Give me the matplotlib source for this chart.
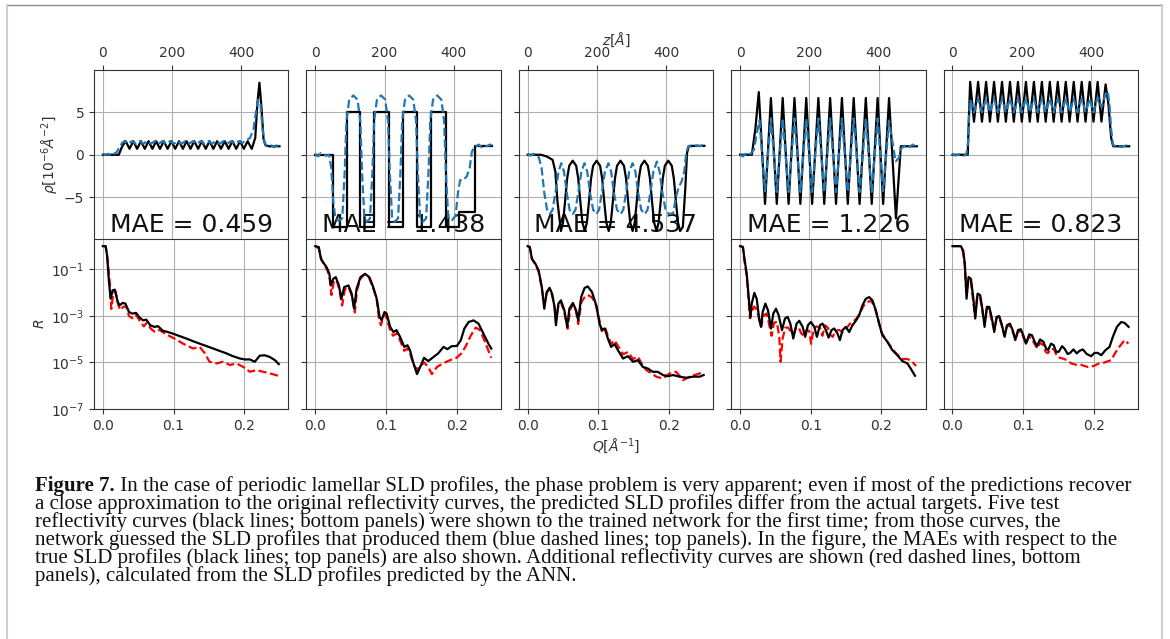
import matplotlib
matplotlib.use("Agg")
import matplotlib.pyplot as plt
import numpy as np
from matplotlib.lines import Line2D
from matplotlib.ticker import NullLocator

# ---------------- top row: SLD profiles, z [A] vs rho [1e-6 A^-2] ----------------
z1_true = [0, 46, 56,
           66, 77, 88, 99, 110, 121, 132, 143, 154, 165,
           176, 187, 198, 209, 220, 231, 242, 253, 264, 275,
           286, 297, 308, 319, 330, 341, 352, 363, 374, 385,
           396, 407, 418,
           430, 440, 446, 452, 458, 464, 470, 480, 510]
rho1_true = [0, 0, 1.0,
             1.6, 0.7, 1.6, 0.7, 1.6, 0.7, 1.6, 0.7, 1.6, 0.7,
             1.6, 0.7, 1.6, 0.7, 1.6, 0.7, 1.6, 0.7, 1.6, 0.7,
             1.6, 0.7, 1.6, 0.7, 1.6, 0.7, 1.6, 0.7, 1.6, 0.7,
             1.6, 0.7, 1.6,
             0.7, 2.0, 6.0, 8.5, 5.5, 1.8, 1.1, 1.0, 1.0]
z1_pred = [0, 8, 16, 24, 32, 40, 48, 56,
           62, 73, 84, 95, 106, 117, 128, 139, 150, 161,
           172, 183, 194, 205, 216, 227, 238, 249, 260, 271,
           282, 293, 304, 315, 326, 337, 348, 359, 370, 381,
           392, 403, 414, 425,
           435, 442, 448, 455, 461, 467, 473, 480, 487, 494, 501, 508]
rho1_pred = [0.1, 0.0, 0.1, -0.1, 0.1, 0.3, 0.9, 1.4,
             1.6, 1.3, 1.6, 1.3, 1.6, 1.3, 1.6, 1.3, 1.6, 1.3,
             1.6, 1.3, 1.6, 1.3, 1.6, 1.3, 1.6, 1.3, 1.6, 1.3,
             1.6, 1.3, 1.6, 1.3, 1.6, 1.3, 1.6, 1.3, 1.6, 1.3,
             1.6, 1.4, 1.7, 2.0,
             3.0, 5.0, 6.5, 6.0, 3.0, 1.4, 1.1, 1.0, 1.1, 0.9, 1.1, 1.0]

z2_true = [0, 50, 50, 91, 91, 129, 129, 171, 171, 212, 212, 253,
           253, 294, 294, 335, 335, 376, 376, 415, 415, 460, 460, 510]
rho2_true = [0, 0, -8.5, -8.5, 5.1, 5.1, -8.5, -8.5, 5.1, 5.1, -8.5, -8.5,
             5.1, 5.1, -8.5, -8.5, 5.1, 5.1, -8.5, -8.5, -6.8, -6.8, 1.0, 1.0]
z2_pred = [0, 8, 16, 24, 32, 40, 46, 52, 58, 68, 78,
           85, 90, 98, 110, 122, 130, 135, 142, 150, 158,
           165, 170, 178, 190, 202, 210, 215, 222, 230, 239,
           246, 251, 259, 271, 283, 291, 296, 303, 311, 320,
           327, 332, 340, 352, 364, 372, 377, 384, 395, 405,
           412, 418, 428, 438, 446, 452, 458, 464, 472, 480, 488, 496, 504, 510]
rho2_pred = [0.1, -0.2, 0.2, 0.0, -0.1, 0.0, -1.5, -5.5, -7.5, -7.8, -7.5,
             -2, 4, 6.5, 7.0, 6.5, 4, -2, -7.5, -7.9, -7.5,
             -2, 4, 6.5, 7.0, 6.5, 4, -2, -7.5, -7.9, -7.5,
             -2, 4, 6.5, 7.0, 6.5, 4, -2, -7.5, -7.9, -7.5,
             -2, 4, 6.5, 7.0, 6.5, 4, -2, -7.5, -7.7, -7.2,
             -4.5, -3.0, -3.0, -2.5, -1.5, 0.3, 0.9, 1.0, 1.2, 0.9, 1.1, 1.0, 1.2, 1.1]

z3_true = [0, 38, 55, 72, 80, 86, 96,
           102, 108, 114, 120, 130, 140, 146, 152, 158, 165,
           171, 177, 183, 189, 199, 209, 215, 221, 227, 234,
           240, 246, 252, 258, 268, 278, 284, 290, 296, 303,
           309, 315, 321, 327, 337, 347, 353, 359, 365, 372,
           378, 384, 390, 396, 406, 416, 422, 428, 434, 440,
           448, 455, 460, 465, 480, 510]
rho3_true = [0, 0, -0.2, -0.6, -2.0, -5.5, -9.0,
             -8.0, -5.5, -2.8, -1.3, -0.7, -1.3, -2.8, -5.5, -8.0, -9.0,
             -8.0, -5.5, -2.8, -1.3, -0.7, -1.3, -2.8, -5.5, -8.0, -9.0,
             -8.0, -5.5, -2.8, -1.3, -0.7, -1.3, -2.8, -5.5, -8.0, -9.0,
             -8.0, -5.5, -2.8, -1.3, -0.7, -1.3, -2.8, -5.5, -8.0, -9.0,
             -8.0, -5.5, -2.8, -1.3, -0.7, -1.3, -2.8, -5.5, -8.0, -9.0,
             -8.5, -4.0, 0.2, 1.0, 1.05, 1.05]
z3_pred = [0, 8, 16, 24, 32, 40, 48, 56, 64,
           72, 80, 89, 97, 105, 113, 121, 130,
           138, 146, 155, 164, 172, 180, 189, 198,
           206, 214, 223, 233, 241, 249, 258, 268,
           276, 284, 293, 303, 311, 319, 328, 338,
           346, 354, 363, 373, 381, 389, 398, 408,
           420, 428, 436, 444, 452, 458, 464, 472, 480, 488, 496, 504, 510]
rho3_pred = [0.1, -0.1, 0.1, 0.0, -0.3, -1.5, -4.5, -6.5, -7.0,
             -6.5, -4.5, -2.0, -1.0, -2.0, -4.5, -6.5, -7.0,
             -6.5, -4.5, -2.0, -1.0, -2.0, -4.5, -6.5, -7.0,
             -6.5, -4.5, -2.0, -1.0, -2.0, -4.5, -6.5, -7.0,
             -6.5, -4.5, -2.0, -1.0, -2.0, -4.5, -6.5, -7.0,
             -6.5, -4.5, -2.0, -0.8, -2.0, -4.5, -6.5, -7.0,
             -6.9, -5.0, -3.8, -3.2, -2.0, 0.3, 1.0, 1.1, 1.0, 1.1, 1.0, 1.1, 1.05]

z4_true = [0, 34, 44, 54,
           72, 89, 106, 123, 140, 157, 174, 191, 208, 226,
           243, 260, 277, 294, 311, 328, 345, 363, 380, 397,
           413, 430,
           450, 464, 480, 510]
rho4_true = [0, 0, 3.0, 7.4,
             -5.8, 6.7, -5.8, 6.7, -5.8, 6.7, -5.8, 6.7, -5.8, 6.7,
             -5.8, 6.7, -5.8, 6.7, -5.8, 6.7, -5.8, 6.7, -5.8, 6.7,
             -5.8, 6.7,
             -7.5, 1.0, 1.0, 1.0]
z4_pred = [0, 8, 16, 24, 32, 40, 48, 56,
           72, 89, 106, 123, 140, 157, 174, 191, 208, 226,
           243, 260, 277, 294, 311, 328, 345, 363, 380, 397,
           413, 430,
           449, 458, 466, 474, 482, 490, 498, 506]
rho4_pred = [0.0, -0.2, 0.1, -0.1, 0.2, 0.6, 2.5, 4.0,
             -4.3, 4.3, -4.4, 4.3, -4.4, 4.3, -4.4, 4.3, -4.4, 4.3,
             -4.4, 4.3, -4.4, 4.3, -4.4, 4.3, -4.4, 4.3, -4.4, 4.3,
             -4.3, 4.0,
             -0.8, -0.4, 0.8, 1.0, 1.2, 0.9, 1.2, 1.0]

z5_true = [0, 44, 47,
           51, 62, 74, 85, 97, 108, 120, 131, 143, 154,
           166, 177, 189, 200, 212, 223, 235, 246, 258, 269,
           281, 292, 304, 315, 327, 338, 350, 361, 373, 384,
           396, 407, 419, 430, 442,
           450, 458, 464, 480, 510]
rho5_true = [0, 0, 4.0,
             8.6, 3.9, 8.6, 3.9, 8.6, 3.9, 8.6, 3.9, 8.6, 3.9,
             8.6, 3.9, 8.6, 3.9, 8.6, 3.9, 8.6, 3.9, 8.6, 3.9,
             8.6, 3.9, 8.6, 3.9, 8.6, 3.9, 8.6, 3.9, 8.6, 3.9,
             8.6, 3.9, 8.6, 3.9, 8.3,
             6.0, 2.0, 1.0, 1.0, 1.0]
z5_pred = [0, 8, 16, 24, 32, 40, 45, 48,
           51, 62, 74, 85, 97, 108, 120, 131, 143, 154,
           166, 177, 189, 200, 212, 223, 235, 246, 258, 269,
           281, 292, 304, 315, 327, 338, 350, 361, 373, 384,
           396, 407, 419, 430, 442,
           448, 453, 458, 463, 470, 478, 486, 494, 502, 509]
rho5_pred = [0.1, -0.1, 0.0, 0.1, -0.1, 0.0, 1.5, 4.5,
             6.5, 5.0, 6.6, 5.0, 6.6, 5.0, 6.6, 5.0, 6.6, 5.0,
             6.6, 5.0, 6.6, 5.0, 6.6, 5.0, 6.6, 5.0, 6.6, 5.0,
             6.6, 5.0, 6.6, 5.0, 6.6, 5.0, 6.6, 5.0, 6.6, 5.0,
             6.6, 5.0, 6.8, 5.6, 7.2,
             7.5, 6.0, 3.0, 1.2, 1.0, 1.1, 0.9, 1.0, 1.1, 0.9]

mae = [0.459, 1.438, 4.537, 1.226, 0.823]

# ---------------- bottom row: reflectivity, Q [1/A] vs log10(R) ----------------
Q1 = [0.0, 0.004, 0.006, 0.0085, 0.011, 0.014, 0.017, 0.021, 0.024, 0.028,
      0.032, 0.037, 0.0415, 0.047, 0.052, 0.057, 0.0615, 0.067, 0.073, 0.078,
      0.085, 0.092, 0.099, 0.109, 0.118, 0.128, 0.137, 0.147, 0.156, 0.165,
      0.175, 0.184, 0.194, 0.201, 0.208, 0.215, 0.222, 0.229, 0.236, 0.2435, 0.249]
logR1 = [0.0, 0.0, -0.4, -1.47, -2.26, -1.9, -1.87, -2.4, -2.54, -2.44,
         -2.47, -2.83, -2.9, -2.87, -3.07, -3.19, -3.16, -3.4, -3.47, -3.44,
         -3.64, -3.69, -3.76, -3.87, -3.97, -4.09, -4.19, -4.3, -4.4, -4.5,
         -4.61, -4.73, -4.83, -4.87, -4.87, -4.97, -4.71, -4.69, -4.76, -4.9, -5.07]
Qr1 = [0.0, 0.004, 0.0065, 0.010, 0.012, 0.015, 0.018, 0.022, 0.025, 0.029,
       0.033, 0.037, 0.042, 0.047, 0.052, 0.058, 0.062, 0.068, 0.074, 0.080,
       0.090, 0.100, 0.1135, 0.1277, 0.137, 0.144, 0.151, 0.161, 0.170, 0.180,
       0.189, 0.1986, 0.208, 0.2175, 0.227, 0.2364, 0.248]
logRr1 = [0.0, 0.0, -0.5, -1.6, -2.7, -2.0, -1.95, -2.55, -2.75, -2.6,
          -2.6, -3.0, -3.1, -2.95, -3.2, -3.45, -3.3, -3.55, -3.7, -3.6,
          -3.8, -3.95, -4.19, -4.4, -4.33, -4.59, -4.97, -5.04, -4.97, -5.11,
          -5.04, -5.19, -5.4, -5.33, -5.4, -5.47, -5.57]

Q2 = [0.0, 0.005, 0.008, 0.011, 0.016, 0.020, 0.022, 0.0255, 0.029, 0.0335,
      0.037, 0.041, 0.047, 0.0515, 0.055, 0.0585, 0.064, 0.0705, 0.0765, 0.082,
      0.087, 0.091, 0.094, 0.098, 0.101, 0.106, 0.1105, 0.115, 0.120, 0.126,
      0.1305, 0.134, 0.139, 0.144, 0.1485, 0.154, 0.160, 0.1675, 0.174, 0.1815,
      0.187, 0.193, 0.2005, 0.206, 0.211, 0.217, 0.224, 0.231, 0.238, 0.245, 0.249]
logR2 = [0.0, -0.04, -0.54, -0.69, -0.9, -1.19, -1.69, -1.4, -1.33, -1.69,
         -2.26, -1.76, -1.69, -2.04, -2.69, -1.83, -1.33, -1.19, -1.33, -1.76,
         -2.26, -3.04, -3.19, -2.83, -2.9, -3.47, -3.69, -3.61, -3.9, -4.33,
         -4.26, -4.47, -5.04, -5.5, -5.19, -4.8, -4.94, -4.76, -4.61, -4.33,
         -4.43, -4.3, -4.29, -4.04, -3.54, -3.26, -3.19, -3.33, -3.76, -4.19, -4.4]
Qr2 = [0.0, 0.005, 0.009, 0.013, 0.018, 0.021, 0.023, 0.026, 0.030, 0.034,
       0.038, 0.042, 0.047, 0.052, 0.056, 0.059, 0.064, 0.070, 0.076, 0.082,
       0.087, 0.0905, 0.093, 0.097, 0.100, 0.106, 0.110, 0.115, 0.120, 0.126,
       0.130, 0.134, 0.139, 0.144, 0.149, 0.154, 0.160, 0.165, 0.172, 0.180,
       0.187, 0.195, 0.200, 0.207, 0.213, 0.220, 0.227, 0.233, 0.240, 0.249]
logRr2 = [0.0, -0.1, -0.6, -0.8, -1.1, -1.5, -2.1, -1.55, -1.45, -1.85,
          -2.55, -1.85, -1.75, -2.15, -2.85, -1.9, -1.4, -1.2, -1.35, -1.8,
          -2.3, -3.2, -3.4, -2.95, -3.0, -3.6, -3.85, -3.75, -4.05, -4.5,
          -4.4, -4.6, -5.1, -5.3, -5.15, -5.0, -5.2, -5.5, -5.2, -5.05,
          -4.95, -4.85, -4.8, -4.6, -4.3, -3.85, -3.5, -3.6, -4.1, -4.8]

Q3 = [0.0, 0.003, 0.006, 0.011, 0.0155, 0.020, 0.0235, 0.027, 0.031, 0.0345,
      0.038, 0.040, 0.0435, 0.047, 0.052, 0.056, 0.059, 0.064, 0.0685, 0.0715,
      0.0757, 0.0805, 0.085, 0.091, 0.097, 0.1017, 0.105, 0.109, 0.1135, 0.118,
      0.123, 0.1277, 0.135, 0.142, 0.149, 0.156, 0.163, 0.170, 0.177, 0.184,
      0.1915, 0.1986, 0.2057, 0.215, 0.2246, 0.234, 0.2435, 0.249]
logR3 = [0.0, -0.04, -0.54, -0.76, -1.04, -1.76, -2.69, -1.97, -1.79, -2.04,
         -2.61, -3.4, -2.47, -2.33, -2.76, -3.47, -2.69, -2.44, -2.76, -3.19,
         -2.19, -1.8, -1.73, -1.97, -2.54, -3.33, -3.61, -3.54, -3.97, -4.33,
         -4.21, -4.47, -4.83, -4.73, -4.97, -4.9, -5.19, -5.26, -5.4, -5.4,
         -5.54, -5.59, -5.54, -5.61, -5.66, -5.61, -5.61, -5.54]
Qr3 = [0.0, 0.003, 0.006, 0.011, 0.0155, 0.020, 0.0235, 0.027, 0.031, 0.0345,
       0.038, 0.040, 0.0435, 0.047, 0.052, 0.0565, 0.060, 0.064, 0.0685, 0.0715,
       0.076, 0.0805, 0.085, 0.091, 0.097, 0.102, 0.105, 0.109, 0.1135, 0.118,
       0.123, 0.128, 0.135, 0.142, 0.149, 0.156, 0.163, 0.168, 0.182, 0.1915,
       0.201, 0.210, 0.220, 0.229, 0.2435, 0.249]
logRr3 = [0.0, -0.05, -0.55, -0.8, -1.1, -1.8, -2.5, -2.0, -1.85, -2.1,
          -2.6, -3.2, -2.55, -2.4, -2.85, -3.55, -2.75, -2.5, -2.8, -3.35,
          -2.4, -2.2, -2.1, -2.2, -2.55, -3.25, -3.65, -3.45, -3.85, -4.2,
          -4.05, -4.3, -4.65, -4.55, -4.85, -4.75, -5.15, -5.33, -5.61, -5.69,
          -5.47, -5.4, -5.76, -5.61, -5.47, -5.4]

Q4 = [0.0, 0.004, 0.006, 0.0094, 0.0122, 0.0146, 0.0165, 0.0202, 0.0235, 0.0273,
      0.0296, 0.032, 0.0358, 0.0395, 0.0438, 0.047, 0.0508, 0.0546, 0.0593, 0.0635,
      0.0673, 0.0711, 0.0753, 0.080, 0.0838, 0.0885, 0.0922, 0.096, 0.1002, 0.105,
      0.1087, 0.113, 0.1167, 0.1214, 0.1252, 0.1294, 0.1332, 0.1379, 0.1412, 0.145,
      0.1496, 0.1544, 0.159, 0.1638, 0.1685, 0.1732, 0.1779, 0.1826, 0.1873, 0.192,
      0.1967, 0.2014, 0.2085, 0.2155, 0.2226, 0.2296, 0.2367, 0.2414, 0.2475]
logR4 = [0.0, -0.03, -0.5, -1.19, -2.19, -3.07, -2.47, -2.01, -2.26, -3.19,
         -3.47, -2.83, -2.47, -2.76, -3.54, -2.9, -2.69, -2.97, -3.61, -3.11,
         -3.04, -3.33, -3.97, -3.33, -3.21, -3.47, -3.9, -3.4, -3.26, -3.47,
         -3.9, -3.4, -3.33, -3.61, -3.93, -3.61, -3.54, -3.76, -4.04, -3.61,
         -3.47, -3.69, -3.4, -3.21, -2.97, -2.54, -2.26, -2.19, -2.33, -2.76,
         -3.33, -3.83, -4.11, -4.47, -4.69, -4.94, -5.04, -5.26, -5.57]
Qr4 = [0.0, 0.004, 0.006, 0.0094, 0.012, 0.014, 0.0165, 0.020, 0.024, 0.0275,
       0.030, 0.033, 0.037, 0.040, 0.0445, 0.048, 0.052, 0.0555, 0.0573, 0.060,
       0.064, 0.068, 0.0715, 0.0755, 0.079, 0.083, 0.0865, 0.090, 0.094, 0.098,
       0.1005, 0.104, 0.108, 0.113, 0.1165, 0.120, 0.124, 0.1275, 0.131, 0.135,
       0.140, 0.145, 0.150, 0.155, 0.160, 0.165, 0.170, 0.175, 0.180, 0.185,
       0.190, 0.195, 0.200, 0.207, 0.215, 0.222, 0.230, 0.237, 0.243, 0.249]
logRr4 = [0.0, -0.05, -0.6, -1.3, -2.3, -3.1, -2.8, -2.6, -2.75, -3.2,
          -3.45, -3.0, -2.9, -3.2, -3.85, -3.3, -3.25, -3.9, -4.97, -4.0,
          -3.5, -3.5, -3.65, -3.8, -3.5, -3.5, -3.75, -3.85, -3.6, -3.65,
          -4.2, -3.6, -3.45, -3.5, -3.85, -3.4, -3.5, -3.8, -3.9, -3.65,
          -3.6, -3.7, -3.55, -3.35, -3.25, -3.1, -2.85, -2.55, -2.4, -2.35,
          -2.55, -3.1, -3.7, -4.05, -4.4, -4.65, -4.85, -4.85, -4.95, -5.15]

Q5 = [0.0, 0.0118, 0.0151, 0.0175, 0.0199, 0.0227, 0.026, 0.0293, 0.0322, 0.0355,
      0.0392, 0.0426, 0.0454, 0.0487, 0.052, 0.0558, 0.0591, 0.0624, 0.0662, 0.070,
      0.0738, 0.0771, 0.0813, 0.0851, 0.0889, 0.0927, 0.0965, 0.1002, 0.104, 0.1087,
      0.1125, 0.1163, 0.1196, 0.1239, 0.1286, 0.1324, 0.1352, 0.1395, 0.1433, 0.1466,
      0.1504, 0.1551, 0.1584, 0.1631, 0.1664, 0.1712, 0.1759, 0.1797, 0.1844, 0.1901,
      0.1962, 0.2009, 0.2057, 0.2104, 0.2165, 0.2222, 0.2269, 0.2326, 0.2388, 0.2435,
      0.2492]
logR5 = [0.0, 0.0, -0.19, -0.76, -2.26, -1.33, -1.4, -2.19, -3.11, -2.04,
         -2.11, -2.76, -3.47, -2.61, -2.61, -3.11, -3.69, -3.04, -3.01, -3.4,
         -3.9, -3.4, -3.33, -3.61, -4.04, -3.61, -3.57, -3.83, -4.19, -3.79,
         -3.83, -4.11, -4.3, -4.01, -4.11, -4.4, -4.47, -4.19, -4.26, -4.54,
         -4.54, -4.3, -4.4, -4.64, -4.59, -4.44, -4.61, -4.5, -4.44, -4.64,
         -4.73, -4.59, -4.59, -4.69, -4.47, -4.33, -3.9, -3.47, -3.26, -3.3,
         -3.47]
Qr5 = [0.0, 0.0118, 0.015, 0.0175, 0.0195, 0.021, 0.0225, 0.026, 0.029, 0.032,
       0.035, 0.039, 0.0425, 0.045, 0.0485, 0.052, 0.0555, 0.059, 0.0625, 0.066,
       0.070, 0.0735, 0.077, 0.081, 0.085, 0.089, 0.0925, 0.0965, 0.100, 0.104,
       0.108, 0.112, 0.116, 0.120, 0.124, 0.128, 0.132, 0.135, 0.140, 0.144,
       0.148, 0.152, 0.156, 0.162, 0.168, 0.175, 0.182, 0.191, 0.200, 0.207,
       0.215, 0.2246, 0.230, 0.236, 0.2435, 0.249]
logRr5 = [0.0, 0.0, -0.25, -0.9, -2.0, -1.7, -1.45, -1.5, -2.3, -3.0,
          -2.15, -2.2, -2.85, -3.3, -2.7, -2.65, -3.2, -3.6, -3.1, -3.05,
          -3.45, -3.85, -3.45, -3.4, -3.65, -4.0, -3.7, -3.65, -3.9, -4.2,
          -3.9, -3.95, -4.2, -4.4, -4.15, -4.25, -4.55, -4.6, -4.4, -4.45,
          -4.75, -4.8, -4.83, -4.9, -5.04, -5.1, -5.1, -5.19, -5.15, -5.05,
          -5.0, -4.9, -4.6, -4.33, -4.04, -4.19]

caption_head = "Figure 7."
caption_lines = [
    " In the case of periodic lamellar SLD profiles, the phase problem is very apparent; even if most of the predictions recover",
    "a close approximation to the original reflectivity curves, the predicted SLD profiles differ from the actual targets. Five test",
    "reflectivity curves (black lines; bottom panels) were shown to the trained network for the first time; from those curves, the",
    "network guessed the SLD profiles that produced them (blue dashed lines; top panels). In the figure, the MAEs with respect to the",
    "true SLD profiles (black lines; top panels) are also shown. Additional reflectivity curves are shown (red dashed lines, bottom",
    "panels), calculated from the SLD profiles predicted by the ANN.",
]

profiles = [(z1_true, rho1_true, z1_pred, rho1_pred),
            (z2_true, rho2_true, z2_pred, rho2_pred),
            (z3_true, rho3_true, z3_pred, rho3_pred),
            (z4_true, rho4_true, z4_pred, rho4_pred),
            (z5_true, rho5_true, z5_pred, rho5_pred)]
curves = [(Q1, logR1, Qr1, logRr1), (Q2, logR2, Qr2, logRr2), (Q3, logR3, Qr3, logRr3),
          (Q4, logR4, Qr4, logRr4), (Q5, logR5, Qr5, logRr5)]

W, H = 1170, 639
fig = plt.figure(figsize=(W / 100, H / 100), dpi=100)
gs = fig.add_gridspec(2, 5, left=94 / W, right=1138 / W, top=1 - 70 / H, bottom=1 - 409 / H,
                      wspace=0.093, hspace=0)

spine_col = "#333333"
tick_col = "#333333"

for i in range(5):
    zt, rt, zp, rp = profiles[i]
    ax = fig.add_subplot(gs[0, i])
    ax.plot(zt, rt, color="k", lw=1.6, zorder=3)
    ax.plot(zp, rp, color="#1f77b4", ls="--", lw=1.6, zorder=4)
    ax.set_xlim(-25.5, 535.5)
    ax.set_ylim(-10, 10)
    ax.set_xticks([0, 200, 400])
    ax.set_yticks([-5, 0, 5])
    ax.tick_params(axis="x", top=True, bottom=False, labeltop=True, labelbottom=False)
    ax.tick_params(colors=tick_col, labelsize=10)
    ax.grid(True, color="#b0b0b0", lw=0.8)
    ax.set_axisbelow(True)
    for s in ax.spines.values():
        s.set_color(spine_col)
    if i == 0:
        ax.set_ylabel(r"$\rho[10^{-6}\AA^{-2}]$", color=tick_col, labelpad=2)
    else:
        ax.tick_params(axis="y", labelleft=False)
    if i == 2:
        ax.xaxis.set_label_position("top")
        ax.set_xlabel(r"$z[\AA]$", color=tick_col, labelpad=1)
    ax.text(0.5, 0.042, f"MAE = {mae[i]:.3f}", transform=ax.transAxes, ha="center",
            va="baseline", fontsize=18, color="#111111", zorder=2)

    Qt, lt, Qp, lp = curves[i]
    bx = fig.add_subplot(gs[1, i])
    bx.semilogy(Qt, 10.0 ** np.array(lt), color="k", lw=1.6, zorder=3)
    bx.semilogy(Qp, 10.0 ** np.array(lp), color="red", ls="--", lw=1.6, zorder=2)
    bx.set_xlim(-0.0125, 0.2625)
    bx.set_ylim(1e-7, 1.93)
    bx.set_xticks([0.0, 0.1, 0.2])
    bx.set_yticks([1e-7, 1e-5, 1e-3, 1e-1])
    bx.yaxis.set_minor_locator(NullLocator())
    bx.tick_params(colors=tick_col, labelsize=10)
    bx.grid(True, color="#b0b0b0", lw=0.8)
    bx.set_axisbelow(True)
    for s in bx.spines.values():
        s.set_color(spine_col)
    if i == 0:
        bx.set_ylabel(r"$R$", color=tick_col, labelpad=3)
    else:
        bx.tick_params(axis="y", labelleft=False)
    if i == 2:
        bx.set_xlabel(r"$Q[\AA^{-1}]$", color=tick_col, labelpad=3)

# caption below the panels
cap_font = dict(family="Liberation Serif", fontsize=15, color="#111111")
x0 = 35 / W
base0 = 491
fig.canvas.draw()
renderer = fig.canvas.get_renderer()
head = fig.text(x0, 1 - base0 / H, caption_head, fontweight="bold", va="baseline", **cap_font)
bb = head.get_window_extent(renderer)
fig.text(bb.x1 / W, 1 - base0 / H, caption_lines[0], va="baseline", **cap_font)
for k, line in enumerate(caption_lines[1:], start=1):
    fig.text(x0, 1 - (base0 + 18 * k) / H, line, va="baseline", **cap_font)

# page frame around the figure
fig.add_artist(Line2D([7 / W, 1162 / W], [1 - 4.5 / H, 1 - 4.5 / H], color="#8c8c8c", lw=1))
fig.add_artist(Line2D([7 / W, 7 / W], [0, 1 - 4.5 / H], color="#cfcfcf", lw=1.5))
fig.add_artist(Line2D([1162 / W, 1162 / W], [0, 1 - 4.5 / H], color="#cfcfcf", lw=1.5))

fig.savefig("out.png", dpi=100)
